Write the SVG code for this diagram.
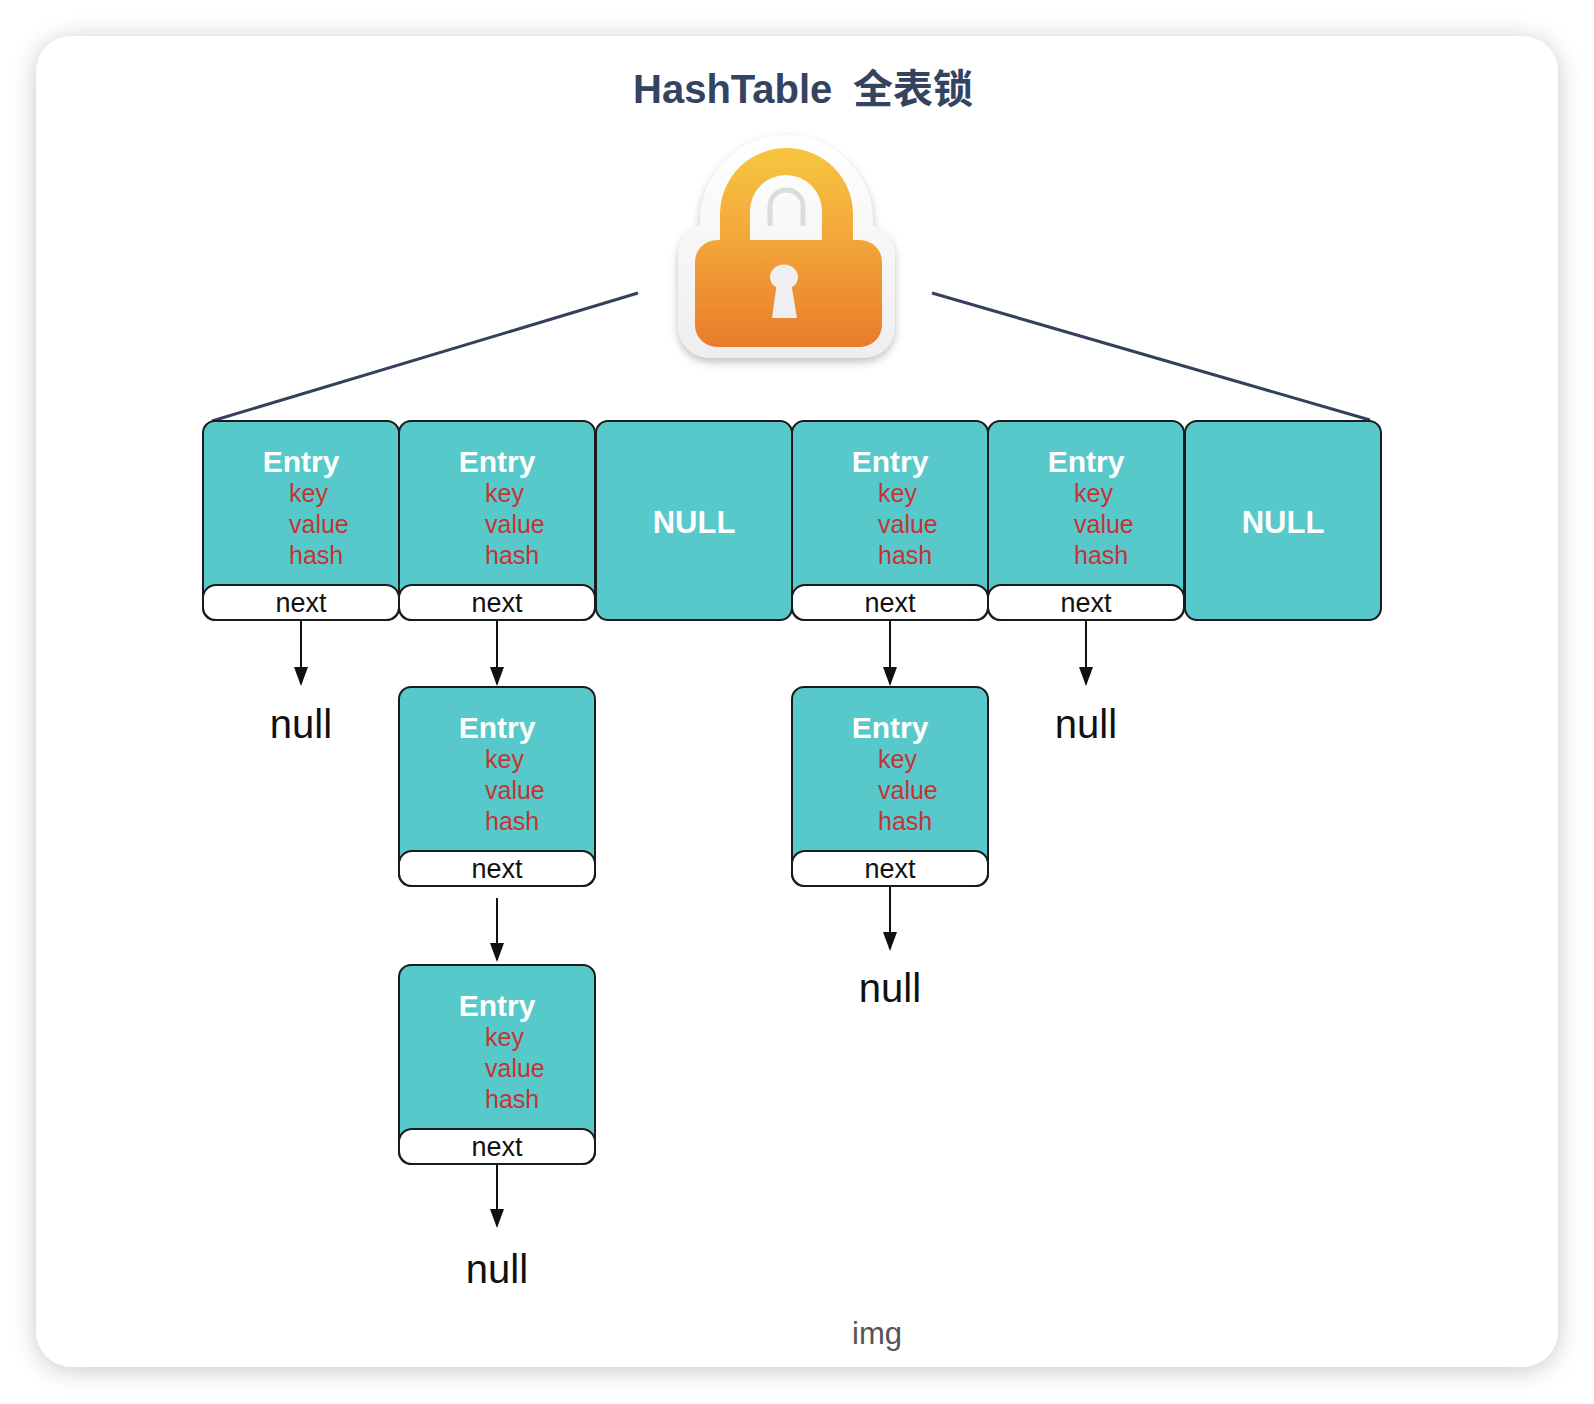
<svg xmlns="http://www.w3.org/2000/svg" width="1594" height="1404" viewBox="0 0 1594 1404">
<defs>
<filter id="cardShadow" x="-5%" y="-5%" width="110%" height="110%">
<feDropShadow dx="0" dy="3" stdDeviation="12" flood-color="#000" flood-opacity="0.22"/>
</filter>
<filter id="lockShadow" x="-20%" y="-20%" width="140%" height="140%">
<feDropShadow dx="0" dy="4" stdDeviation="4" flood-color="#000" flood-opacity="0.25"/>
</filter>
<linearGradient id="lockWhite" x1="0" y1="135" x2="0" y2="358" gradientUnits="userSpaceOnUse">
<stop offset="0" stop-color="#ffffff"/>
<stop offset="1" stop-color="#eeeef0"/>
</linearGradient>
<linearGradient id="lockOrange" x1="0" y1="148" x2="0" y2="347" gradientUnits="userSpaceOnUse">
<stop offset="0" stop-color="#f6c640"/>
<stop offset="0.45" stop-color="#f3a73a"/>
<stop offset="1" stop-color="#e97b2a"/>
</linearGradient>
<marker id="arr" viewBox="0 0 19 14" refX="17" refY="7" markerWidth="19" markerHeight="14" markerUnits="userSpaceOnUse" orient="auto">
<path d="M0,0 L19,7 L0,14 Z" fill="#111"/>
</marker>
</defs>
<style>
.box{fill:#57c9ca;stroke:#1b1b1b;stroke-width:2}
.nx{fill:#fff;stroke:#1b1b1b;stroke-width:2}
.en{font-family:"Liberation Sans",Arial,sans-serif;font-weight:bold;font-size:30px;fill:#fff;text-anchor:middle}
.fd{font-family:"Liberation Sans",Arial,sans-serif;font-size:25px;fill:#c53434}
.nt{font-family:"Liberation Sans",Arial,sans-serif;font-size:27px;fill:#111;text-anchor:middle}
.nl{font-family:"Liberation Sans",Arial,sans-serif;font-size:40px;fill:#111;text-anchor:middle}
.nul{font-family:"Liberation Sans",Arial,sans-serif;font-weight:bold;font-size:31px;fill:#fff;text-anchor:middle}
.conn{stroke:#111;stroke-width:2;fill:none;marker-end:url(#arr)}
.lk{stroke:#34405e;stroke-width:3;fill:none}
</style>
<rect width="1594" height="1404" fill="#ffffff"/>
<rect x="36" y="36" width="1522" height="1331" rx="36" fill="#fff" filter="url(#cardShadow)"/>
<text x="633" y="103" font-family="Liberation Sans,'Noto Sans CJK SC',sans-serif" font-weight="bold" font-size="40" fill="#34435f">HashTable<tspan x="853" font-family="'Noto Sans CJK SC',sans-serif">全表锁</tspan></text>
<g id="lock">
<g filter="url(#lockShadow)" fill="url(#lockWhite)">
<rect x="678" y="224" width="217" height="134" rx="32"/>
<path d="M700,240 V222 A86.5,87 0 0 1 873,222 V240 Z"/>
</g>
<path fill="url(#lockOrange)" fill-rule="evenodd" d="M720,244 V214 A66.5,66 0 0 1 853,214 V244 Z M750,244 V211 A36,36 0 0 1 822,211 V244 Z"/>
<rect x="695" y="240" width="187" height="107" rx="22" fill="url(#lockOrange)"/>
<path d="M770,226 V206 A16.5,16 0 0 1 803,206 V226" fill="none" stroke="#dcdce0" stroke-width="5"/>
<ellipse cx="784" cy="277" rx="14" ry="12.5" fill="#efeff1"/>
<path d="M777,282 H791 L797,318 H772 Z" fill="#efeff1"/>
</g>
<g id="connectors">
<line class="lk" x1="638" y1="293" x2="212" y2="421"/>
<line class="lk" x1="932" y1="293" x2="1370" y2="420"/>
<line class="conn" x1="301" y1="620" x2="301" y2="684"/>
<line class="conn" x1="497" y1="620" x2="497" y2="684"/>
<line class="conn" x1="890" y1="620" x2="890" y2="684"/>
<line class="conn" x1="1086" y1="620" x2="1086" y2="684"/>
<line class="conn" x1="497" y1="898" x2="497" y2="960"/>
<line class="conn" x1="890" y1="886" x2="890" y2="949"/>
<line class="conn" x1="497" y1="1163" x2="497" y2="1226"/>
</g>
<g id="entry1">
<rect class="box" x="203" y="421" width="196" height="199" rx="12"/>
<rect class="nx" x="203" y="585" width="196" height="35" rx="13"/>
<text class="en" x="301" y="472">Entry</text>
<text class="fd" x="289" y="502">key</text>
<text class="fd" x="289" y="533">value</text>
<text class="fd" x="289" y="564">hash</text>
<text class="nt" x="301" y="612">next</text>
</g>
<g id="entry2">
<rect class="box" x="399" y="421" width="196" height="199" rx="12"/>
<rect class="nx" x="399" y="585" width="196" height="35" rx="13"/>
<text class="en" x="497" y="472">Entry</text>
<text class="fd" x="485" y="502">key</text>
<text class="fd" x="485" y="533">value</text>
<text class="fd" x="485" y="564">hash</text>
<text class="nt" x="497" y="612">next</text>
</g>
<g id="null3">
<rect class="box" x="596" y="421" width="196" height="199" rx="12"/>
<text class="nul" x="694" y="533">NULL</text>
</g>
<g id="entry4">
<rect class="box" x="792" y="421" width="196" height="199" rx="12"/>
<rect class="nx" x="792" y="585" width="196" height="35" rx="13"/>
<text class="en" x="890" y="472">Entry</text>
<text class="fd" x="878" y="502">key</text>
<text class="fd" x="878" y="533">value</text>
<text class="fd" x="878" y="564">hash</text>
<text class="nt" x="890" y="612">next</text>
</g>
<g id="entry5">
<rect class="box" x="988" y="421" width="196" height="199" rx="12"/>
<rect class="nx" x="988" y="585" width="196" height="35" rx="13"/>
<text class="en" x="1086" y="472">Entry</text>
<text class="fd" x="1074" y="502">key</text>
<text class="fd" x="1074" y="533">value</text>
<text class="fd" x="1074" y="564">hash</text>
<text class="nt" x="1086" y="612">next</text>
</g>
<g id="null6">
<rect class="box" x="1185" y="421" width="196" height="199" rx="12"/>
<text class="nul" x="1283" y="533">NULL</text>
</g>
<g id="entry2b">
<rect class="box" x="399" y="687" width="196" height="199" rx="12"/>
<rect class="nx" x="399" y="851" width="196" height="35" rx="13"/>
<text class="en" x="497" y="738">Entry</text>
<text class="fd" x="485" y="768">key</text>
<text class="fd" x="485" y="799">value</text>
<text class="fd" x="485" y="830">hash</text>
<text class="nt" x="497" y="878">next</text>
</g>
<g id="entry4b">
<rect class="box" x="792" y="687" width="196" height="199" rx="12"/>
<rect class="nx" x="792" y="851" width="196" height="35" rx="13"/>
<text class="en" x="890" y="738">Entry</text>
<text class="fd" x="878" y="768">key</text>
<text class="fd" x="878" y="799">value</text>
<text class="fd" x="878" y="830">hash</text>
<text class="nt" x="890" y="878">next</text>
</g>
<g id="entry2c">
<rect class="box" x="399" y="965" width="196" height="199" rx="12"/>
<rect class="nx" x="399" y="1129" width="196" height="35" rx="13"/>
<text class="en" x="497" y="1016">Entry</text>
<text class="fd" x="485" y="1046">key</text>
<text class="fd" x="485" y="1077">value</text>
<text class="fd" x="485" y="1108">hash</text>
<text class="nt" x="497" y="1156">next</text>
</g>
<g id="nullA"><text class="nl" x="301" y="738">null</text></g>
<g id="nullB"><text class="nl" x="1086" y="738">null</text></g>
<g id="nullC"><text class="nl" x="890" y="1002">null</text></g>
<g id="nullD"><text class="nl" x="497" y="1283">null</text></g>
<text x="877" y="1344" font-family="Liberation Sans,Arial,sans-serif" font-size="31" fill="#555" text-anchor="middle">img</text>
</svg>
